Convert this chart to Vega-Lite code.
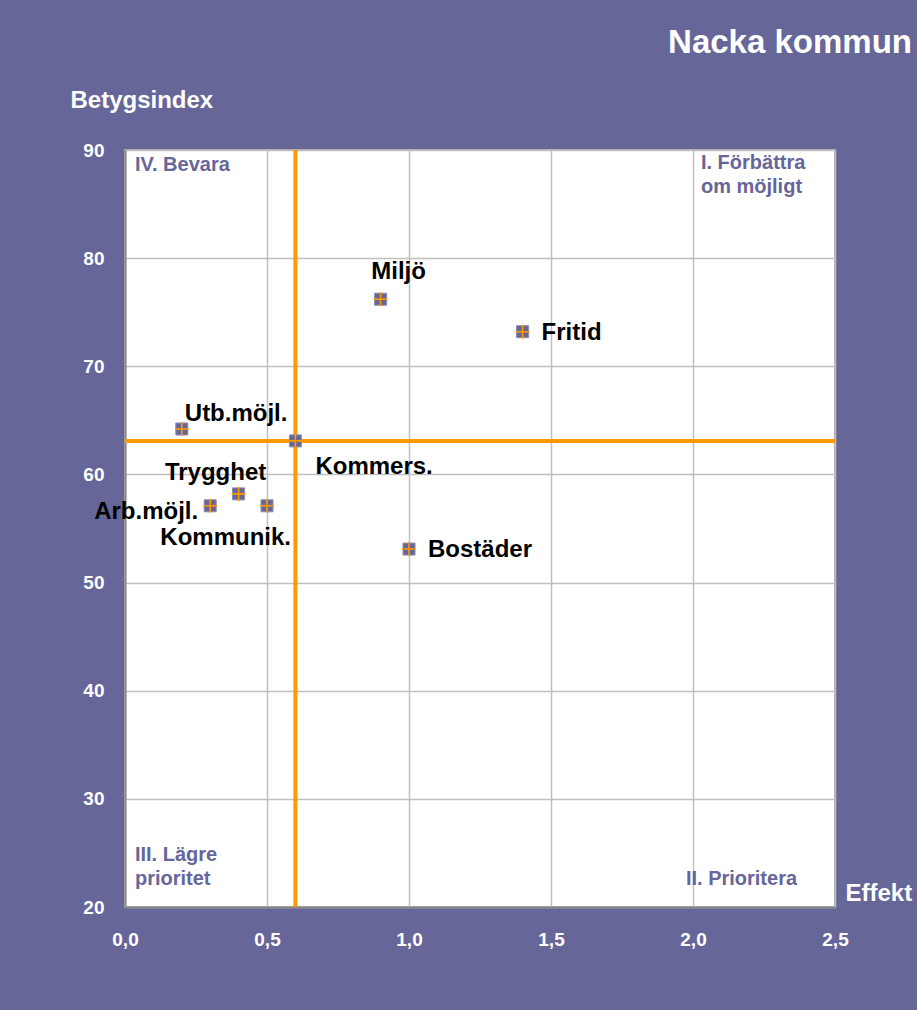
{
  "$schema": "https://vega.github.io/schema/vega-lite/v6.json",
  "width": 710,
  "height": 757,
  "autosize": "none",
  "padding": {"left": 125, "top": 150, "right": 82, "bottom": 103},
  "background": "#666699",
  "title": {
    "text": "Nacka kommun",
    "anchor": "end",
    "frame": "group",
    "color": "white",
    "font": "Liberation Sans",
    "fontSize": 33,
    "fontWeight": "bold",
    "dx": 77,
    "baseline": "middle",
    "offset": 12
  },
  "config": {
    "view": {"fill": "white", "stroke": "#aaaaaa", "strokeWidth": 2},
    "axis": {
      "labelFont": "Liberation Sans",
      "labelFontWeight": "bold",
      "labelFontSize": 19,
      "labelColor": "white",
      "labelFlush": false,
      "titleFont": "Liberation Sans",
      "titleFontWeight": "bold",
      "titleFontSize": 24,
      "titleColor": "white",
      "gridColor": "#c0c0c0",
      "gridWidth": 1.5,
      "gridOpacity": 1,
      "domainColor": "#888888",
      "domainWidth": 2,
      "ticks": false,
      "tickSize": 0
    }
  },
  "datasets": {
    "pts": [
      {"omrade": "Miljö", "effekt": 0.9, "betyg": 76.2},
      {"omrade": "Fritid", "effekt": 1.4, "betyg": 73.2},
      {"omrade": "Utb.möjl.", "effekt": 0.2, "betyg": 64.2},
      {"omrade": "Kommers.", "effekt": 0.6, "betyg": 63.1},
      {"omrade": "Trygghet", "effekt": 0.4, "betyg": 58.2},
      {"omrade": "Arb.möjl.", "effekt": 0.3, "betyg": 57.1},
      {"omrade": "Kommunik.", "effekt": 0.5, "betyg": 57.1},
      {"omrade": "Bostäder", "effekt": 1.0, "betyg": 53.1}
    ],
    "quads": [
      {"text": "IV. Bevara", "effekt": 0.035, "betyg": 89.5},
      {"text": "I. Förbättra\nom möjligt", "effekt": 2.028, "betyg": 89.7},
      {"text": "III. Lägre\nprioritet", "effekt": 0.035, "betyg": 25.7},
      {"text": "II. Prioritera", "effekt": 1.975, "betyg": 23.5}
    ],
    "refs": [
      {"effekt": 0.6, "betyg": 63.1}
    ]
  },
  "layer": [
    {
      "data": {"name": "pts"},
      "mark": {"type": "point", "opacity": 0},
      "encoding": {
        "x": {
          "field": "effekt", "type": "quantitative",
          "scale": {"domain": [0, 2.5], "nice": false, "zero": false},
          "axis": {
            "values": [0, 0.5, 1, 1.5, 2, 2.5],
            "labelExpr": "replace(format(datum.value, '.1f'), '.', ',')",
            "labelPadding": 23,
            "title": "Effekt",
            "titleAlign": "left",
            "titleBaseline": "middle",
            "titleAnchor": "start",
            "titleX": 720,
            "titleY": -14
          }
        },
        "y": {
          "field": "betyg", "type": "quantitative",
          "scale": {"domain": [20, 90], "nice": false, "zero": false},
          "axis": {
            "values": [20, 30, 40, 50, 60, 70, 80, 90],
            "labelPadding": 21,
            "title": "Betygsindex",
            "titleAngle": 0,
            "titleAlign": "left",
            "titleBaseline": "middle",
            "titleX": -55,
            "titleY": -50
          }
        }
      }
    },
    {
      "data": {"name": "refs"},
      "mark": {"type": "rule", "color": "#ff9900", "strokeWidth": 4},
      "encoding": {"x": {"field": "effekt", "type": "quantitative"}}
    },
    {
      "data": {"name": "refs"},
      "mark": {"type": "rule", "color": "#ff9900", "strokeWidth": 4},
      "encoding": {"y": {"field": "betyg", "type": "quantitative"}}
    },
    {
      "data": {"name": "quads"},
      "mark": {"type": "text", "align": "left", "baseline": "top", "font": "Liberation Sans", "fontWeight": "bold", "fontSize": 20, "color": "#666699", "lineBreak": "\n", "lineHeight": 24},
      "encoding": {
        "x": {"field": "effekt", "type": "quantitative"},
        "y": {"field": "betyg", "type": "quantitative"},
        "text": {"field": "text"}
      }
    },
    {
      "data": {"name": "pts"},
      "mark": {"type": "point", "shape": "square", "filled": true, "size": 144, "color": "#666699", "opacity": 1, "stroke": "#8a8ab0", "strokeWidth": 1},
      "encoding": {
        "x": {"field": "effekt", "type": "quantitative"},
        "y": {"field": "betyg", "type": "quantitative"}
      }
    },
    {
      "data": {"name": "pts"},
      "mark": {"type": "point", "shape": "M-1,0L1,0M0,-1L0,1", "filled": false, "size": 196, "color": "#ff9900", "opacity": 1, "strokeWidth": 1.6},
      "encoding": {
        "x": {"field": "effekt", "type": "quantitative"},
        "y": {"field": "betyg", "type": "quantitative"}
      }
    },
    {
      "data": {"name": "pts"},
      "transform": [{"filter": "datum.omrade === 'Miljö'"}],
      "mark": {"type": "text", "align": "center", "baseline": "middle", "dx": 18, "dy": -27, "font": "Liberation Sans", "fontWeight": "bold", "fontSize": 24, "color": "black"},
      "encoding": {"x": {"field": "effekt", "type": "quantitative"}, "y": {"field": "betyg", "type": "quantitative"}, "text": {"field": "omrade"}}
    },
    {
      "data": {"name": "pts"},
      "transform": [{"filter": "datum.omrade === 'Fritid' || datum.omrade === 'Bostäder'"}],
      "mark": {"type": "text", "align": "left", "baseline": "middle", "dx": 19, "dy": 1, "font": "Liberation Sans", "fontWeight": "bold", "fontSize": 24, "color": "black"},
      "encoding": {"x": {"field": "effekt", "type": "quantitative"}, "y": {"field": "betyg", "type": "quantitative"}, "text": {"field": "omrade"}}
    },
    {
      "data": {"name": "pts"},
      "transform": [{"filter": "datum.omrade === 'Utb.möjl.'"}],
      "mark": {"type": "text", "align": "left", "baseline": "middle", "dx": 3, "dy": -15, "font": "Liberation Sans", "fontWeight": "bold", "fontSize": 24, "color": "black"},
      "encoding": {"x": {"field": "effekt", "type": "quantitative"}, "y": {"field": "betyg", "type": "quantitative"}, "text": {"field": "omrade"}}
    },
    {
      "data": {"name": "pts"},
      "transform": [{"filter": "datum.omrade === 'Kommers.'"}],
      "mark": {"type": "text", "align": "left", "baseline": "middle", "dx": 20, "dy": 26, "font": "Liberation Sans", "fontWeight": "bold", "fontSize": 24, "color": "black"},
      "encoding": {"x": {"field": "effekt", "type": "quantitative"}, "y": {"field": "betyg", "type": "quantitative"}, "text": {"field": "omrade"}}
    },
    {
      "data": {"name": "pts"},
      "transform": [{"filter": "datum.omrade === 'Trygghet'"}],
      "mark": {"type": "text", "align": "center", "baseline": "middle", "dx": -23, "dy": -21, "font": "Liberation Sans", "fontWeight": "bold", "fontSize": 24, "color": "black"},
      "encoding": {"x": {"field": "effekt", "type": "quantitative"}, "y": {"field": "betyg", "type": "quantitative"}, "text": {"field": "omrade"}}
    },
    {
      "data": {"name": "pts"},
      "transform": [{"filter": "datum.omrade === 'Arb.möjl.'"}],
      "mark": {"type": "text", "align": "right", "baseline": "middle", "dx": -12, "dy": 6, "font": "Liberation Sans", "fontWeight": "bold", "fontSize": 24, "color": "black"},
      "encoding": {"x": {"field": "effekt", "type": "quantitative"}, "y": {"field": "betyg", "type": "quantitative"}, "text": {"field": "omrade"}}
    },
    {
      "data": {"name": "pts"},
      "transform": [{"filter": "datum.omrade === 'Kommunik.'"}],
      "mark": {"type": "text", "align": "right", "baseline": "middle", "dx": 24, "dy": 32, "font": "Liberation Sans", "fontWeight": "bold", "fontSize": 24, "color": "black"},
      "encoding": {"x": {"field": "effekt", "type": "quantitative"}, "y": {"field": "betyg", "type": "quantitative"}, "text": {"field": "omrade"}}
    }
  ]
}
